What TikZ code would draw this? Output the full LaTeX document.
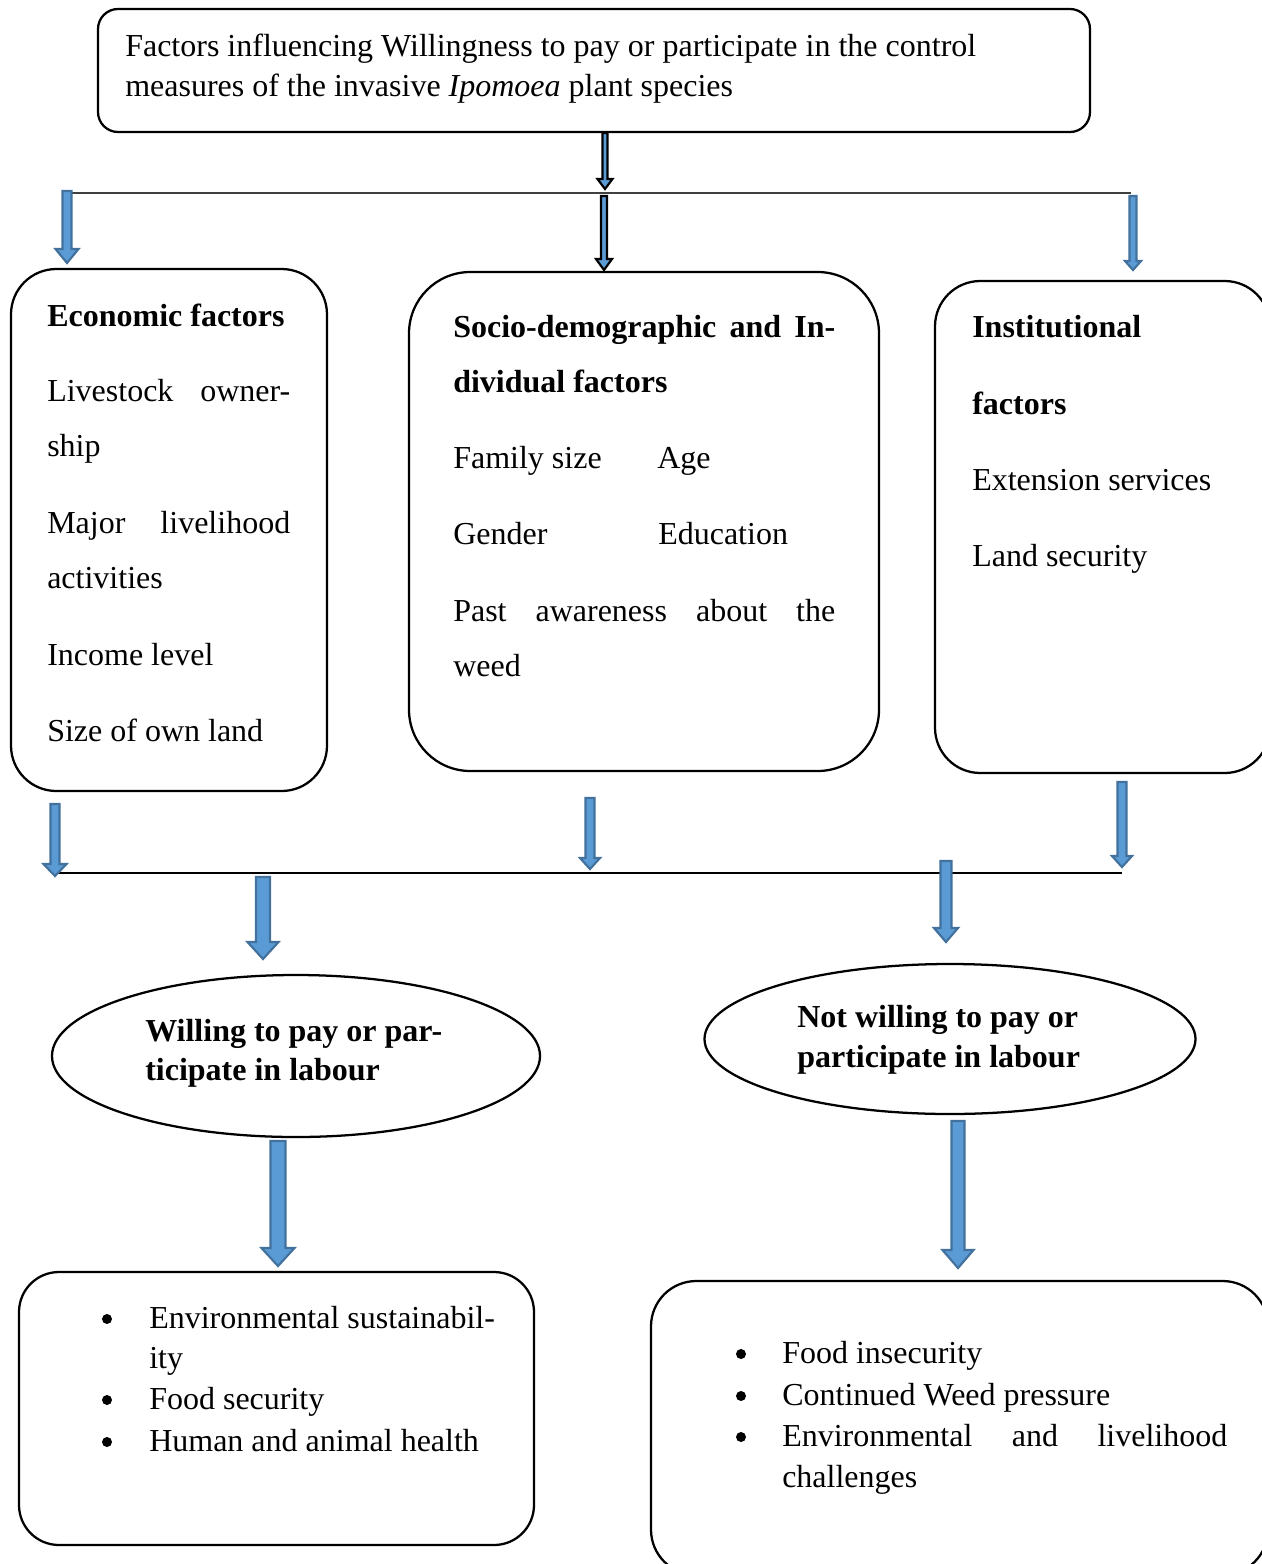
\documentclass[tikz,border=0pt]{standalone}
\usepackage{fontspec}
\setmainfont{Liberation Serif}
\usetikzlibrary{calc,shapes.geometric}
\definecolor{arrfill}{HTML}{5B9BD5}
\definecolor{arrdraw}{HTML}{41719C}
\definecolor{linegray}{HTML}{404040}
\newcommand\blockarrow[6]{%
 \filldraw[fill=arrfill,draw=#6,line width=1.6pt,line join=miter]
  ($(#1)+(-#3/2,0)$) -- ($(#1)+(#3/2,0)$) -- ($(#2)+(#3/2,-#5)$) -- ($(#2)+(#4/2,-#5)$)
  -- (#2) -- ($(#2)+(-#4/2,-#5)$) -- ($(#2)+(-#3/2,-#5)$) -- cycle;}
\newcommand\pxbox[7]{%
 \node[#6, minimum width={(#4-#2)*0.75pt}, minimum height={(#5-#3)*0.75pt}, rounded corners=#7] (#1) at ({(#2+#4)/2},{(#3+#5)/2}) {};}
\newcommand\jline[2]{\makebox[#1][s]{#2}}
\tikzset{
  boxstyle/.style={draw=black, line width=1.7pt, inner sep=0pt, rectangle},
  ellstyle/.style={draw=black, line width=1.7pt, inner sep=0pt, ellipse},
  txt/.style={anchor=base west, inner sep=0pt, font=\fontsize{24pt}{30pt}\selectfont},
  btxt/.style={txt, font=\fontsize{24pt}{30pt}\selectfont\bfseries},
  bul/.style={circle, fill=black, inner sep=0pt, minimum size=7.5pt},
  conn/.style={line width=1.2pt}
}
\begin{document}
\begin{tikzpicture}[x=0.75pt,y=-0.75pt]
\clip (0,0) rectangle (1262,1564);
\fill[white] (0,0) rectangle (1262,1564);

% ---------- boxes ----------
\pxbox{top}{98}{9}{1090}{132}{boxstyle}{15pt}
\pxbox{econ}{11}{269}{327}{791}{boxstyle}{34pt}
\pxbox{socio}{409}{272}{879}{771}{boxstyle}{46pt}
\pxbox{inst}{935}{281}{1270}{773}{boxstyle}{34pt}
\pxbox{outl}{19}{1272}{534}{1545}{boxstyle}{30pt}
\pxbox{outr}{651}{1281}{1268}{1575}{boxstyle}{34pt}
\node[ellstyle, minimum width={488*0.75pt}, minimum height={162*0.75pt}] (will) at (296,1056) {};
\node[ellstyle, minimum width={491*0.75pt}, minimum height={150*0.75pt}] (notwill) at (950,1039) {};

% ---------- texts ----------
\node[txt] (t1) at (125,56) {Factors influencing Willingness to pay or participate in the control};
\node[txt] (t2) at (125,96) {measures of the invasive \textit{Ipomoea} plant species};

\node[btxt] (e0) at (47,326) {Economic factors};
\node[txt] (e1) at (47,401) {\jline{182.25pt}{Livestock owner-}};
\node[txt] (e2) at (47,456) {ship};
\node[txt] (e3) at (47,533) {\jline{182.25pt}{Major livelihood}};
\node[txt] (e4) at (47,588) {activities};
\node[txt] (e5) at (47,665) {Income level};
\node[txt] (e6) at (47,741) {Size of own land};

\node[btxt] (s0) at (453,337) {\jline{286.5pt}{Socio-demographic and In-}};
\node[btxt] (s1) at (453,392) {dividual factors};
\node[txt] (s2) at (453,468) {Family size};
\node[txt] (s3) at (657,468) {Age};
\node[txt] (s4) at (453,544) {Gender};
\node[txt] (s5) at (658,544) {Education};
\node[txt] (s6) at (453,621) {\jline{286.5pt}{Past awareness about the}};
\node[txt] (s7) at (453,676) {weed};

\node[btxt] (i0) at (972,337) {Institutional};
\node[btxt] (i1) at (972,414) {factors};
\node[txt] (i2) at (972,490) {Extension services};
\node[txt] (i3) at (972,566) {Land security};

\node[btxt] (w0) at (145,1041) {Willing to pay or par-};
\node[btxt] (w1) at (145,1080) {ticipate in labour};
\node[btxt] (n0) at (797,1027) {Not willing to pay or};
\node[btxt] (n1) at (797,1067) {participate in labour};

\node[bul] (lb1) at (107,1319) {};
\node[txt] (l1) at (149,1328) {Environmental sustainabil-};
\node[txt] (l2) at (149,1368) {ity};
\node[bul] (lb2) at (107,1400) {};
\node[txt] (l3) at (149,1409) {Food security};
\node[bul] (lb3) at (107,1442) {};
\node[txt] (l4) at (149,1451) {Human and animal health};

\node[bul] (rb1) at (741,1354) {};
\node[txt] (r1) at (782,1363) {Food insecurity};
\node[bul] (rb2) at (741,1396) {};
\node[txt] (r2) at (782,1405) {Continued Weed pressure};
\node[bul] (rb3) at (741,1437) {};
\node[txt] (r3) at (782,1446) {\jline{333.75pt}{Environmental and livelihood}};
\node[txt] (r4) at (782,1487) {challenges};

% ---------- connector lines ----------
\coordinate (hl1) at (72,193);
\coordinate (hr1) at (1131,193);
\draw[conn, linegray] (hl1) -- (hr1);
\coordinate (hl2) at (58,873);
\coordinate (hr2) at (1122,873);
\draw[conn, black] (hl2) -- (hr2);

% ---------- block arrows ----------
\coordinate (a1s) at (605,133); \coordinate (a1e) at (605,189);
\blockarrow{a1s}{a1e}{5}{15}{10}{black}
\coordinate (a2s) at (604,196); \coordinate (a2e) at (604,270);
\blockarrow{a2s}{a2e}{6}{16}{11}{black}
\coordinate (a3s) at (67,191); \coordinate (a3e) at (67,263);
\blockarrow{a3s}{a3e}{9}{23}{14}{arrdraw}
\coordinate (a4s) at (1133,196); \coordinate (a4e) at (1133,270);
\blockarrow{a4s}{a4e}{7}{16}{9}{arrdraw}

\coordinate (b1s) at (55,804); \coordinate (b1e) at (55,876);
\blockarrow{b1s}{b1e}{9}{23}{12}{arrdraw}
\coordinate (b2s) at (590,798); \coordinate (b2e) at (590,869);
\blockarrow{b2s}{b2e}{9}{20}{11}{arrdraw}
\coordinate (b3s) at (1122,782); \coordinate (b3e) at (1122,867);
\blockarrow{b3s}{b3e}{9}{20}{11}{arrdraw}
\coordinate (b4s) at (263,877); \coordinate (b4e) at (263,959);
\blockarrow{b4s}{b4e}{14}{31}{17}{arrdraw}
\coordinate (b5s) at (946,861); \coordinate (b5e) at (946,942);
\blockarrow{b5s}{b5e}{11}{24}{14}{arrdraw}

\coordinate (c1s) at (278,1141); \coordinate (c1e) at (278,1266);
\blockarrow{c1s}{c1e}{15}{33}{18}{arrdraw}
\coordinate (c2s) at (958,1121); \coordinate (c2e) at (958,1268);
\blockarrow{c2s}{c2e}{13}{31}{18}{arrdraw}
\end{tikzpicture}
\end{document}
